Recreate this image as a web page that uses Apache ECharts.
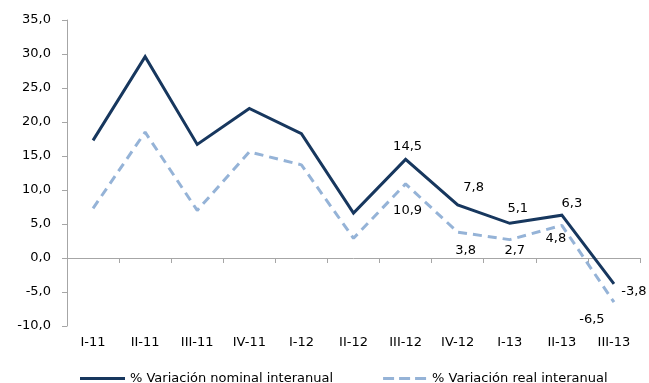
<!DOCTYPE html>
<html>
<head>
<meta charset="utf-8">
<script src="https://cdn.jsdelivr.net/npm/echarts@6/dist/echarts.min.js"></script>
<style>
html,body{margin:0;padding:0;background:#fff;}
#chart{width:649px;height:383px;}
</style>
</head>
<body>
<div id="chart"></div>
<script>
// Quarterly year-on-year change, in percent
const categories = ['I-11','II-11','III-11','IV-11','I-12','II-12','III-12','IV-12','I-13','II-13','III-13'];
const nominal = [17.3, 29.6, 16.7, 22.0, 18.3, 6.6, 14.5, 7.8, 5.1, 6.3, -3.8];
const real = [7.3, 18.5, 7.0, 15.6, 13.7, 2.9, 10.9, 3.8, 2.7, 4.8, -6.5];
const yTicks = [-10, -5, 0, 5, 10, 15, 20, 25, 30, 35];
const nominalName = '% Variación nominal interanual';
const realName = '% Variación real interanual';
const firstLabelled = 6; // value labels shown from III-12 onward

// pixel offsets of each value label's centre from its point (III-12 .. III-13)
const nominalLabelOffsets = [[2, -13], [16, -17], [8, -15], [10, -12], [20, 8]];
const realLabelOffsets = [[2, 27], [8, 18], [5, 11], [-6, 13], [-22, 17]];

const font = 'DejaVu Sans';
const fmt = v => v.toFixed(1).replace('.', ',');
const navy = '#17375e';
const sky = '#95b3d7';

function withLabels(values, offsets) {
  return values.map((v, i) => ({
    value: v,
    label: i < firstLabelled
      ? {show: false}
      : {show: true, position: 'inside', offset: offsets[i - firstLabelled]}
  }));
}

// legend glyphs: a solid bar and a row of dashes
const solidIcon = 'path://M0,0h45v3h-45z';
const dashIcon = 'path://M0,0h11v3h-11z M16,0h11v3h-11z M32,0h11v3h-11z';

const labelStyle = {fontFamily: font, fontSize: 13, color: '#000', formatter: p => fmt(p.value)};

const chart = echarts.init(document.getElementById('chart'), null, {renderer: 'canvas'});
chart.setOption({
  animation: false,
  textStyle: {fontFamily: font},
  grid: {left: 67, right: 9, top: 20, bottom: 57, containLabel: false},
  legend: {
    top: 372,
    left: 80,
    padding: 0,
    itemGap: 50,
    itemWidth: 45,
    itemHeight: 3,
    textStyle: {fontFamily: font, fontSize: 13, color: '#000'},
    data: [
      {name: nominalName, icon: solidIcon, itemStyle: {color: navy, opacity: 1}},
      {name: realName, icon: dashIcon, itemStyle: {color: sky, opacity: 1}}
    ]
  },
  xAxis: {
    type: 'category',
    data: categories,
    boundaryGap: true,
    axisLine: {onZero: true, lineStyle: {color: '#a6a6a6', width: 1}},
    axisTick: {show: true, length: 5, lineStyle: {color: '#a6a6a6'}},
    axisLabel: {fontFamily: font, fontSize: 13, color: '#000', margin: 10},
    splitLine: {show: false}
  },
  yAxis: {
    type: 'value',
    min: yTicks[0],
    max: yTicks[yTicks.length - 1],
    interval: 5,
    axisLine: {show: true, lineStyle: {color: '#a6a6a6', width: 1}},
    axisTick: {show: true, length: 5, inside: false, lineStyle: {color: '#a6a6a6'}},
    axisLabel: {fontFamily: font, fontSize: 13, color: '#000', margin: 16, formatter: v => fmt(v)},
    splitLine: {show: false}
  },
  series: [
    {
      name: nominalName,
      type: 'line',
      data: withLabels(nominal, nominalLabelOffsets),
      symbol: 'circle',
      symbolSize: 0,
      showAllSymbol: true,
      lineStyle: {color: navy, width: 3, join: 'miter'},
      itemStyle: {color: navy},
      label: labelStyle,
      emphasis: {disabled: true},
      z: 3
    },
    {
      name: realName,
      type: 'line',
      data: withLabels(real, realLabelOffsets),
      symbol: 'circle',
      symbolSize: 0,
      showAllSymbol: true,
      lineStyle: {color: sky, width: 3, type: [9, 6]},
      itemStyle: {color: sky},
      label: labelStyle,
      emphasis: {disabled: true},
      z: 2
    }
  ]
});
</script>
</body>
</html>
